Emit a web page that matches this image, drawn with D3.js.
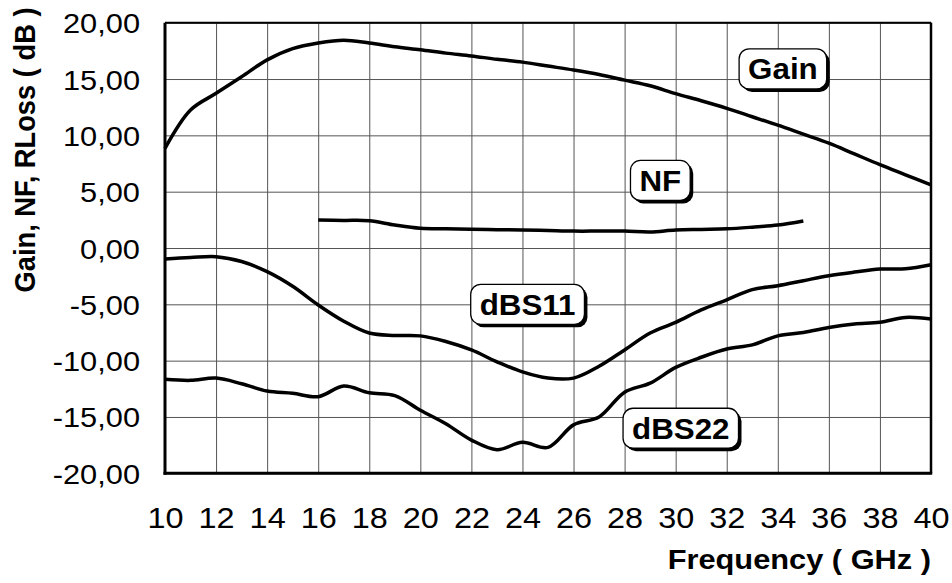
<!DOCTYPE html>
<html>
<head>
<meta charset="utf-8">
<script src="https://cdn.jsdelivr.net/npm/d3@7"></script>
<style>
  body { margin: 0; background: #fff; }
  text { font-family: "Liberation Sans", Arial, sans-serif; fill: #000; }
</style>
</head>
<body>
<div class="chart"></div>
<script>
// ---- data ----
const freq = [10,11,12,13,14,15,16,17,18,19,20,21,22,23,24,25,26,27,28,29,30,31,32,33,34,35,36,37,38,39,40];
const gain = [8.85,12.25,13.73,15.2,16.7,17.7,18.2,18.45,18.2,17.87,17.6,17.3,17.05,16.75,16.5,16.15,15.8,15.4,14.9,14.4,13.7,13.07,12.4,11.65,10.9,10.1,9.3,8.35,7.4,6.5,5.6];
const s11 = [-0.98,-0.85,-0.77,-1.2,-2.1,-3.4,-5.06,-6.5,-7.55,-7.76,-7.8,-8.3,-9.05,-10.1,-11.0,-11.55,-11.55,-10.5,-9.05,-7.55,-6.6,-5.5,-4.6,-3.7,-3.35,-2.9,-2.46,-2.14,-1.87,-1.84,-1.48];
const s22 = [-11.65,-11.75,-11.55,-12.05,-12.7,-12.9,-13.2,-12.25,-12.85,-13.1,-14.4,-15.6,-17.05,-17.9,-17.25,-17.7,-15.7,-15.0,-12.8,-12.0,-10.6,-9.7,-8.97,-8.6,-7.8,-7.5,-7.05,-6.75,-6.6,-6.16,-6.3];
const nfFreq = [16,17,18,19,20,21,22,23,24,25,26,27,28,29,30,31,32,33,34,35];
const nf = [2.48,2.45,2.42,2.04,1.75,1.7,1.66,1.63,1.6,1.55,1.5,1.5,1.5,1.42,1.6,1.65,1.7,1.85,2.04,2.4];

const xTicks = [10,12,14,16,18,20,22,24,26,28,30,32,34,36,38,40];
const yTicks = [-20,-15,-10,-5,0,5,10,15,20];

// label name, freq, value where the box is centred
const labelNames = ["Gain", "NF", "dBS11", "dBS22"];
const labelAt = [[34.2, 15.9], [29.4, 6.0], [24.2, -5.0], [30.2, -16.0]];

const W = 952, H = 583;
const margin = {top: 22.7, right: 21, bottom: 109.7, left: 165};
const width = W - margin.left - margin.right,
      height = H - margin.top - margin.bottom;
const stretch = 1.08;   // text in the picture is a little wider than tall

const svg = d3.select(".chart").append("svg")
    .attr("width", W)
    .attr("height", H)
  .append("g")
    .attr("transform", "translate(" + margin.left + "," + margin.top + ")");

const x = d3.scaleLinear().domain([10, 40]).range([0, width]);
const y = d3.scaleLinear().domain([-20, 20]).range([height, 0]);

// grid
svg.append("g")
    .attr("class", "xgrid")
    .attr("transform", `translate(0,${height})`)
    .call(d3.axisBottom(x).tickValues(xTicks).tickSize(-height).tickFormat(""))
    .call(g => g.select(".domain").remove())
    .call(g => g.selectAll("line").attr("stroke", "#555").attr("stroke-width", 1));

svg.append("g")
    .attr("class", "ygrid")
    .call(d3.axisLeft(y).tickValues(yTicks).tickSize(-width).tickFormat(""))
    .call(g => g.select(".domain").remove())
    .call(g => g.selectAll("line").attr("stroke", "#555").attr("stroke-width", 1));

// frame
svg.append("line").attr("x1", 0).attr("x2", width).attr("y1", 0).attr("y2", 0)
    .attr("stroke", "#000").attr("stroke-width", 2);
svg.append("line").attr("x1", width).attr("x2", width).attr("y1", 0).attr("y2", height)
    .attr("stroke", "#000").attr("stroke-width", 2.5);
svg.append("line").attr("x1", 0).attr("x2", 0).attr("y1", 0).attr("y2", height + 1.5)
    .attr("stroke", "#000").attr("stroke-width", 3);
svg.append("line").attr("x1", -1.5).attr("x2", width + 1.2).attr("y1", height).attr("y2", height)
    .attr("stroke", "#000").attr("stroke-width", 3);

// tick labels
svg.append("g")
    .attr("transform", `translate(0,${height})`)
    .call(d3.axisBottom(x).tickValues(xTicks).tickSize(0).tickPadding(0).tickFormat(d => d))
    .call(g => g.select(".domain").remove())
    .call(g => g.selectAll("text")
        .attr("y", 0).attr("dy", 0)
        .attr("transform", `translate(0,54.5) scale(${stretch},1)`)
        .attr("font-size", 30)
        .attr("font-family", '"Liberation Sans", Arial, sans-serif'));

svg.append("g")
    .call(d3.axisLeft(y).tickValues(yTicks).tickSize(0).tickPadding(0)
        .tickFormat(d => d.toFixed(2).replace(".", ",")))
    .call(g => g.select(".domain").remove())
    .call(g => g.selectAll("text")
        .attr("x", 0).attr("dy", 0)
        .attr("transform", `translate(-25,10) scale(${stretch},1)`)
        .attr("font-size", 28.5)
        .attr("font-family", '"Liberation Sans", Arial, sans-serif'));

// axis titles
svg.append("text")
    .attr("text-anchor", "end")
    .attr("font-weight", "bold")
    .attr("font-size", 28.5)
    .attr("transform", `translate(${width},${height + 96}) scale(${stretch},1)`)
    .text("Frequency ( GHz )");

svg.append("text")
    .attr("text-anchor", "middle")
    .attr("font-weight", "bold")
    .attr("font-size", 27.3)
    .attr("transform", `translate(${35 - margin.left},${150 - margin.top}) scale(${stretch},1) rotate(-90)`)
    .text("Gain, NF, RLoss ( dB )");

// curves
const line = d3.line()
    .x(d => x(d[0]))
    .y(d => y(d[1]))
    .curve(d3.curveCatmullRom.alpha(0.5));

const series = [
  d3.zip(freq, gain),
  d3.zip(nfFreq, nf),
  d3.zip(freq, s11),
  d3.zip(freq, s22)
];

svg.selectAll(".curve")
    .data(series)
    .enter()
    .append("path")
    .attr("class", "curve")
    .attr("d", line)
    .attr("fill", "none")
    .attr("stroke", "#000")
    .attr("stroke-width", 3.5)
    .attr("stroke-linejoin", "round");

// labels in rounded boxes with a drop shadow
const tags = svg.selectAll(".tag")
    .data(labelNames)
    .enter()
    .append("g")
    .attr("class", "tag")
    .attr("transform", (d, i) => `translate(${x(labelAt[i][0])},${y(labelAt[i][1])})`);

tags.each(function(d) {
  const g = d3.select(this);
  const shadow = g.append("rect");
  const box = g.append("rect");
  const t = g.append("text")
      .attr("text-anchor", "middle")
      .attr("font-weight", "bold")
      .attr("font-size", 29)
      .attr("transform", `translate(0,10.5) scale(${stretch},1)`)
      .text(d);
  const w = t.node().getComputedTextLength() * stretch + 18;
  const h = 40;
  shadow.attr("x", -w / 2 + 3).attr("y", -h / 2 + 3).attr("width", w).attr("height", h)
      .attr("rx", 10).attr("fill", "#000");
  box.attr("x", -w / 2).attr("y", -h / 2).attr("width", w).attr("height", h)
      .attr("rx", 10).attr("fill", "#fff").attr("stroke", "#000").attr("stroke-width", 1.3);
});
</script>
</body>
</html>
